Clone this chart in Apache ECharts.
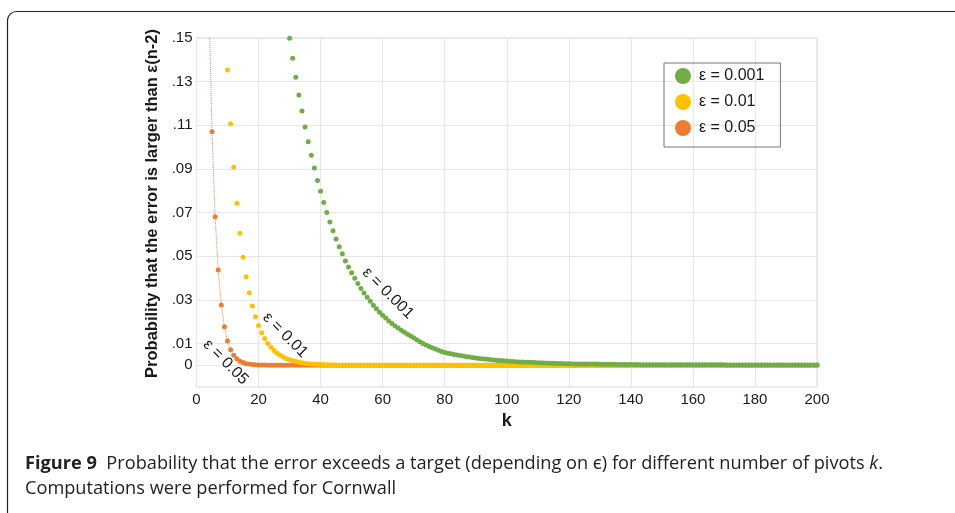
<!DOCTYPE html>
<html>
<head>
<meta charset="utf-8">
<title>Figure 9</title>
<script src="https://cdn.jsdelivr.net/npm/echarts@6/dist/echarts.min.js"></script>
<style>
  html, body { margin: 0; padding: 0; background: #fff; }
  #chart { width: 955px; height: 513px; }
</style>
</head>
<body>
<div id="chart"></div>
<script>
// series names (legend order)
const names = ['ε = 0.001', 'ε = 0.01', 'ε = 0.05'];

// y tick labels and x ticks
const yTicks = [0, 0.01, 0.03, 0.05, 0.07, 0.09, 0.11, 0.13, 0.15];
const xTicks = [0, 20, 40, 60, 80, 100, 120, 140, 160, 180, 200];

// eps = 0.001, k = 30 .. 200
const greenStart = 30;
const green = [
  0.1499, 0.1407, 0.1320, 0.1239, 0.1165, 0.1092, 0.1024, 0.0962, 0.0904, 0.0847,
  0.0797, 0.0746, 0.0700, 0.0657, 0.0616, 0.0578, 0.0543, 0.0511, 0.0478, 0.0450,
  0.0424,
  0.0399, 0.0375, 0.0352, 0.0331, 0.0311, 0.0293, 0.0275, 0.0259, 0.0243, 0.0229,
  0.0216, 0.0203, 0.0191, 0.0180, 0.0170, 0.0160, 0.0151, 0.0142, 0.0134, 0.0126,
  0.0117, 0.0108, 0.0100, 0.0093, 0.0086, 0.0080, 0.0074, 0.0068, 0.0063, 0.0058,
  0.0055, 0.0052, 0.0049, 0.0047, 0.0044, 0.0042, 0.0039, 0.0037, 0.0035, 0.0033,
  0.0031, 0.0030, 0.0028, 0.0027, 0.0025, 0.0024, 0.0022, 0.0021, 0.0020, 0.0019,
  0.0018, 0.0017, 0.0016, 0.0015, 0.0015, 0.0014, 0.0013, 0.0013, 0.0012, 0.0011,
  0.0011, 0.0010, 0.0010, 0.0009, 0.0009, 0.0008, 0.0008, 0.0008, 0.0007, 0.0007,
  0.0007, 0.0006, 0.0006, 0.0006, 0.0005, 0.0005, 0.0005, 0.0005, 0.0005, 0.0004,
  0.0004, 0.0004, 0.0004, 0.0004, 0.0004, 0.0003, 0.0003, 0.0003, 0.0003, 0.0003,
  0.0003, 0.0003, 0.0002, 0.0002, 0.0002, 0.0002, 0.0002, 0.0002, 0.0002, 0.0002,
  0.0002, 0.0002, 0.0002, 0.0002, 0.0002, 0.0002, 0.0002, 0.0002, 0.0002, 0.0002,
  0.0002, 0.0002, 0.0002, 0.0002, 0.0002, 0.0002, 0.0002, 0.0002, 0.0002, 0.0002,
  0.0001, 0.0001, 0.0001, 0.0001, 0.0001, 0.0001, 0.0001, 0.0001, 0.0001, 0.0001,
  0.0001, 0.0001, 0.0001, 0.0001, 0.0001, 0.0001, 0.0001, 0.0001, 0.0001, 0.0001,
  0.0001, 0.0001, 0.0001, 0.0001, 0.0001, 0.0001, 0.0001, 0.0001, 0.0001, 0.0001
];

// eps = 0.01, k = 10 .. 200
const yellowStart = 10;
const yellow = [
  0.1353, 0.1107, 0.0907, 0.0742, 0.0605, 0.0495, 0.0405, 0.0332, 0.0271, 0.0222,
  0.0182, 0.0149, 0.0122, 0.0100, 0.0082, 0.0067, 0.0055, 0.0045, 0.0037, 0.0030,
  0.0025, 0.0020, 0.0017, 0.0014, 0.0011, 0.0009, 0.0007, 0.0006, 0.0005, 0.0004,
  0.0003, 0.0003, 0.0002, 0.0002, 0.0001, 0.0001,
  0, 0, 0, 0, 0, 0, 0, 0, 0, 0, 0, 0, 0, 0, 0, 0, 0, 0, 0, 0,
  0, 0, 0, 0, 0, 0, 0, 0, 0, 0, 0, 0, 0, 0, 0, 0, 0, 0, 0, 0,
  0, 0, 0, 0, 0, 0, 0, 0, 0, 0, 0, 0, 0, 0, 0, 0, 0, 0, 0, 0,
  0, 0, 0, 0, 0, 0, 0, 0, 0, 0, 0, 0, 0, 0, 0, 0, 0, 0, 0, 0,
  0, 0, 0, 0, 0, 0, 0, 0, 0, 0, 0, 0, 0, 0, 0, 0, 0, 0, 0, 0,
  0, 0, 0, 0, 0, 0, 0, 0, 0, 0, 0, 0, 0, 0, 0, 0, 0, 0, 0, 0,
  0, 0, 0, 0, 0, 0, 0, 0, 0, 0, 0, 0, 0, 0, 0, 0, 0, 0, 0, 0,
  0, 0, 0, 0, 0, 0, 0, 0, 0, 0, 0, 0, 0, 0, 0
];

// eps = 0.05, k = 4 .. 200
const orangeStart = 4;
const orange = [
  0.167, 0.107, 0.068, 0.0436, 0.0276, 0.0176, 0.0111, 0.0071, 0.0045, 0.0029,
  0.0018, 0.0012, 0.0007, 0.0005, 0.0003, 0.0002, 0.0001, 0.0001, 0.0001,
  0, 0, 0, 0, 0, 0, 0, 0, 0, 0, 0, 0, 0, 0, 0, 0, 0, 0, 0, 0,
  0, 0, 0, 0, 0, 0, 0, 0, 0, 0, 0, 0, 0, 0, 0, 0, 0, 0, 0, 0,
  0, 0, 0, 0, 0, 0, 0, 0, 0, 0, 0, 0, 0, 0, 0, 0, 0, 0, 0, 0,
  0, 0, 0, 0, 0, 0, 0, 0, 0, 0, 0, 0, 0, 0, 0, 0, 0, 0, 0, 0,
  0, 0, 0, 0, 0, 0, 0, 0, 0, 0, 0, 0, 0, 0, 0, 0, 0, 0, 0, 0,
  0, 0, 0, 0, 0, 0, 0, 0, 0, 0, 0, 0, 0, 0, 0, 0, 0, 0, 0, 0,
  0, 0, 0, 0, 0, 0, 0, 0, 0, 0, 0, 0, 0, 0, 0, 0, 0, 0, 0, 0,
  0, 0, 0, 0, 0, 0, 0, 0, 0, 0, 0, 0, 0, 0, 0, 0, 0, 0, 0, 0,
  0, 0, 0, 0, 0, 0, 0, 0, 0, 0, 0, 0, 0, 0, 0, 0, 0, 0
];

const colors = ['#70AD47', '#FFC000', '#ED7D31'];
const font = 'Liberation Sans, Arial, sans-serif';
const captionFont = 'Open Sans, Noto Sans, sans-serif';

function pairs(start, vals) {
  return vals.map((v, i) => [start + i, v]);
}

function tag(text, k, v) {
  return {
    symbol: 'circle',
    symbolSize: 1,
    itemStyle: { color: 'rgba(0,0,0,0)' },
    label: {
      show: true,
      position: 'inside',
      rotate: -45,
      formatter: text,
      color: '#1a1a1a',
      fontSize: 16,
      fontFamily: font
    },
    data: [{ coord: [k, v] }]
  };
}

const chart = echarts.init(document.getElementById('chart'));

chart.setOption({
  animation: false,
  textStyle: { fontFamily: font },
  grid: {
    left: 196.5,
    right: 138,
    top: 38,
    bottom: 126,
    show: true,
    borderColor: '#d9d9d9',
    borderWidth: 1
  },
  legend: {
    data: names,
    orient: 'vertical',
    left: 664,
    top: 63,
    icon: 'circle',
    itemWidth: 16,
    itemHeight: 16,
    itemGap: 10,
    padding: [5, 16, 11, 11],
    borderColor: '#777',
    borderWidth: 1,
    textStyle: { color: '#1a1a1a', fontSize: 16, fontFamily: font, padding: [0, 0, 0, 3] }
  },
  xAxis: {
    type: 'value',
    min: 0,
    max: 200,
    interval: 20,
    name: 'k',
    nameLocation: 'middle',
    nameGap: 23,
    nameTextStyle: { color: '#1a1a1a', fontSize: 18, fontWeight: 'bold', fontFamily: font },
    axisLine: { show: false },
    axisTick: { show: false },
    axisLabel: {
      color: '#1a1a1a',
      fontSize: 15,
      margin: 5,
      customValues: xTicks
    },
    splitLine: { lineStyle: { color: '#e6e6e6', width: 1 } }
  },
  yAxis: {
    type: 'value',
    min: -0.01,
    max: 0.15,
    name: 'Probability that the error is larger than ε(n-2)',
    nameLocation: 'middle',
    nameGap: 29,
    nameTextStyle: {
      color: '#1a1a1a',
      fontSize: 16.5,
      fontWeight: 'bold',
      fontFamily: font,
      padding: [0, 0, 0, 18]
    },
    axisLine: { show: false },
    axisTick: { show: false, customValues: yTicks },
    axisLabel: {
      color: '#1a1a1a',
      fontSize: 15,
      margin: 4,
      customValues: yTicks,
      formatter: v => (v === 0 ? '0' : v.toFixed(2).replace(/^0/, ''))
    },
    splitLine: { lineStyle: { color: '#e6e6e6', width: 1 } }
  },
  series: [
    {
      name: names[2],
      type: 'line',
      data: pairs(orangeStart, orange),
      symbol: 'circle',
      symbolSize: 5,
      showAllSymbol: true,
      itemStyle: { color: colors[2], opacity: 1 },
      lineStyle: { color: colors[2], width: 1, type: 'dotted' },
      clip: true,
      z: 2,
      markPoint: tag('ε = 0.05', 9.4, 0.0014)
    },
    {
      name: names[1],
      type: 'scatter',
      data: pairs(yellowStart, yellow),
      symbolSize: 5,
      itemStyle: { color: colors[1], opacity: 1 },
      clip: true,
      z: 3,
      markPoint: tag('ε = 0.01', 28.6, 0.0138)
    },
    {
      name: names[0],
      type: 'scatter',
      data: pairs(greenStart, green),
      symbolSize: 5,
      itemStyle: { color: colors[0], opacity: 1 },
      clip: true,
      z: 4,
      markPoint: tag('ε = 0.001', 61.7, 0.033)
    }
  ],
  graphic: [
    {
      type: 'rect',
      silent: true,
      shape: { x: 7.5, y: 11.5, width: 1000, height: 600, r: 9 },
      style: { fill: 'none', stroke: '#222', lineWidth: 1.2 }
    },
    {
      type: 'text',
      left: 25,
      top: 451,
      silent: true,
      style: {
        text: '{b|Figure 9}  Probability that the error exceeds a target (depending on ϵ) for different number of pivots {i|k}.\nComputations were performed for Cornwall',
        fontFamily: captionFont,
        fontSize: 18.2,
        lineHeight: 25,
        fill: '#222',
        rich: {
          b: { fontWeight: 'bold', fontSize: 18.2, fontFamily: captionFont, fill: '#222' },
          i: { fontStyle: 'italic', fontSize: 18.2, fontFamily: captionFont, fill: '#222' }
        }
      }
    }
  ]
});
</script>
</body>
</html>
